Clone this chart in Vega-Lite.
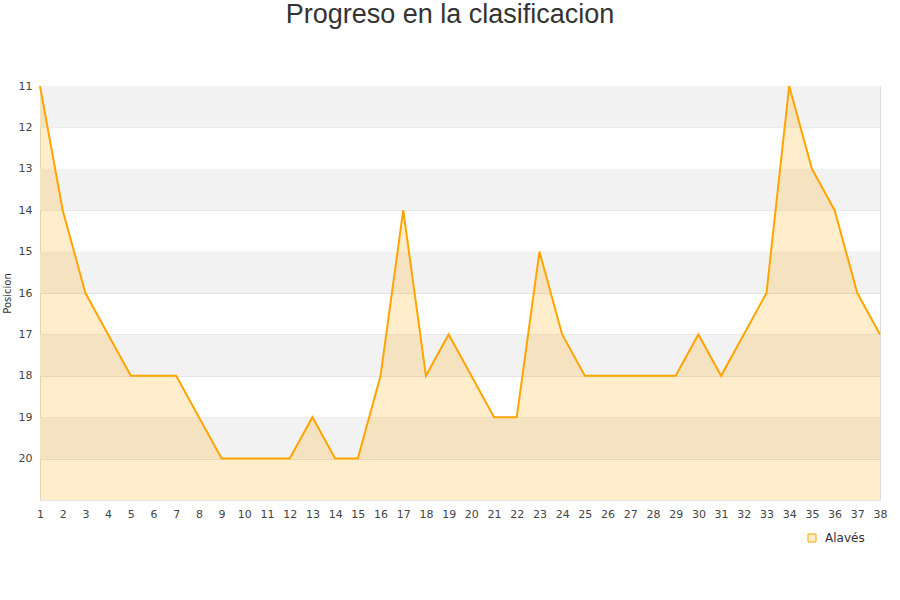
{
  "$schema": "https://vega.github.io/schema/vega-lite/v6.json",
  "width": 840,
  "height": 414,
  "autosize": {"type": "none"},
  "padding": {"left": 40, "top": 86, "right": 20, "bottom": 100},
  "background": "white",
  "title": {"text": "Progreso en la clasificacion", "font": "Liberation Sans", "fontSize": 27, "fontWeight": "normal", "color": "#333333", "offset": 51, "dx": -10},
  "config": {
    "view": {"stroke": "#dddddd"},
    "font": "DejaVu Sans",
    "axisX": {"labelOverlap": false, "labelSeparation": -12, "labelFlush": false, "labelFontSize": 11, "labelColor": "#444444", "labelPadding": 8, "ticks": false, "domain": false, "grid": false},
    "axisY": {"labelFontSize": 11, "labelColor": "#444444", "labelPadding": 8, "ticks": false, "domain": false, "grid": true, "gridColor": "#e3e3e3"}
  },
  "datasets": {
    "bands": [
      {"desde": 11, "hasta": 12}, {"desde": 13, "hasta": 14}, {"desde": 15, "hasta": 16},
      {"desde": 17, "hasta": 18}, {"desde": 19, "hasta": 20}
    ],
    "pos": [
      {"jornada": 1, "posicion": 11, "equipo": "Alavés"},
      {"jornada": 2, "posicion": 14, "equipo": "Alavés"},
      {"jornada": 3, "posicion": 16, "equipo": "Alavés"},
      {"jornada": 4, "posicion": 17, "equipo": "Alavés"},
      {"jornada": 5, "posicion": 18, "equipo": "Alavés"},
      {"jornada": 6, "posicion": 18, "equipo": "Alavés"},
      {"jornada": 7, "posicion": 18, "equipo": "Alavés"},
      {"jornada": 8, "posicion": 19, "equipo": "Alavés"},
      {"jornada": 9, "posicion": 20, "equipo": "Alavés"},
      {"jornada": 10, "posicion": 20, "equipo": "Alavés"},
      {"jornada": 11, "posicion": 20, "equipo": "Alavés"},
      {"jornada": 12, "posicion": 20, "equipo": "Alavés"},
      {"jornada": 13, "posicion": 19, "equipo": "Alavés"},
      {"jornada": 14, "posicion": 20, "equipo": "Alavés"},
      {"jornada": 15, "posicion": 20, "equipo": "Alavés"},
      {"jornada": 16, "posicion": 18, "equipo": "Alavés"},
      {"jornada": 17, "posicion": 14, "equipo": "Alavés"},
      {"jornada": 18, "posicion": 18, "equipo": "Alavés"},
      {"jornada": 19, "posicion": 17, "equipo": "Alavés"},
      {"jornada": 20, "posicion": 18, "equipo": "Alavés"},
      {"jornada": 21, "posicion": 19, "equipo": "Alavés"},
      {"jornada": 22, "posicion": 19, "equipo": "Alavés"},
      {"jornada": 23, "posicion": 15, "equipo": "Alavés"},
      {"jornada": 24, "posicion": 17, "equipo": "Alavés"},
      {"jornada": 25, "posicion": 18, "equipo": "Alavés"},
      {"jornada": 26, "posicion": 18, "equipo": "Alavés"},
      {"jornada": 27, "posicion": 18, "equipo": "Alavés"},
      {"jornada": 28, "posicion": 18, "equipo": "Alavés"},
      {"jornada": 29, "posicion": 18, "equipo": "Alavés"},
      {"jornada": 30, "posicion": 17, "equipo": "Alavés"},
      {"jornada": 31, "posicion": 18, "equipo": "Alavés"},
      {"jornada": 32, "posicion": 17, "equipo": "Alavés"},
      {"jornada": 33, "posicion": 16, "equipo": "Alavés"},
      {"jornada": 34, "posicion": 11, "equipo": "Alavés"},
      {"jornada": 35, "posicion": 13, "equipo": "Alavés"},
      {"jornada": 36, "posicion": 14, "equipo": "Alavés"},
      {"jornada": 37, "posicion": 16, "equipo": "Alavés"},
      {"jornada": 38, "posicion": 17, "equipo": "Alavés"}
    ]
  },
  "layer": [
    {
      "data": {"name": "bands"},
      "mark": {"type": "rect", "color": "#f2f2f2"},
      "encoding": {
        "y": {
          "field": "desde", "type": "quantitative",
          "scale": {"domain": [11, 21], "reverse": true, "nice": false, "zero": false},
          "axis": {
            "title": "Posicion", "titleFontSize": 10, "titleFontWeight": "normal", "titleColor": "#333333", "titlePadding": 6,
            "values": [11,12,13,14,15,16,17,18,19,20,21],
            "labelExpr": "datum.value == 21 ? '' : datum.label",
            "labelBaseline": "middle"
          }
        },
        "y2": {"field": "hasta"}
      }
    },
    {
      "data": {"name": "pos"},
      "mark": {"type": "area", "color": "#ffa500", "opacity": 0.2},
      "encoding": {
        "x": {
          "field": "jornada", "type": "quantitative",
          "scale": {"domain": [1, 38], "nice": false, "zero": false},
          "axis": {
            "title": null,
            "values": [1,2,3,4,5,6,7,8,9,10,11,12,13,14,15,16,17,18,19,20,21,22,23,24,25,26,27,28,29,30,31,32,33,34,35,36,37,38],
            "labelOverlap": false, "labelSeparation": -12
          }
        },
        "y": {"field": "posicion", "type": "quantitative"},
        "y2": {"datum": 21}
      }
    },
    {
      "data": {"name": "pos"},
      "mark": {"type": "line", "strokeWidth": 2},
      "encoding": {
        "x": {
          "field": "jornada", "type": "quantitative",
          "axis": {
            "title": null,
            "values": [1,2,3,4,5,6,7,8,9,10,11,12,13,14,15,16,17,18,19,20,21,22,23,24,25,26,27,28,29,30,31,32,33,34,35,36,37,38],
            "labelOverlap": false, "labelSeparation": -12
          }
        },
        "y": {"field": "posicion", "type": "quantitative"},
        "color": {
          "field": "equipo", "type": "nominal",
          "scale": {"range": ["#ffa500"]},
          "legend": {
            "title": null, "orient": "none", "legendX": 766, "legendY": 446,
            "symbolType": "square", "symbolSize": 64, "symbolFillColor": "#ffedcc", "symbolStrokeColor": "#ffa500", "symbolStrokeWidth": 1,
            "labelFontSize": 12, "labelColor": "#333333", "labelOffset": 7
          }
        }
      }
    }
  ]
}
